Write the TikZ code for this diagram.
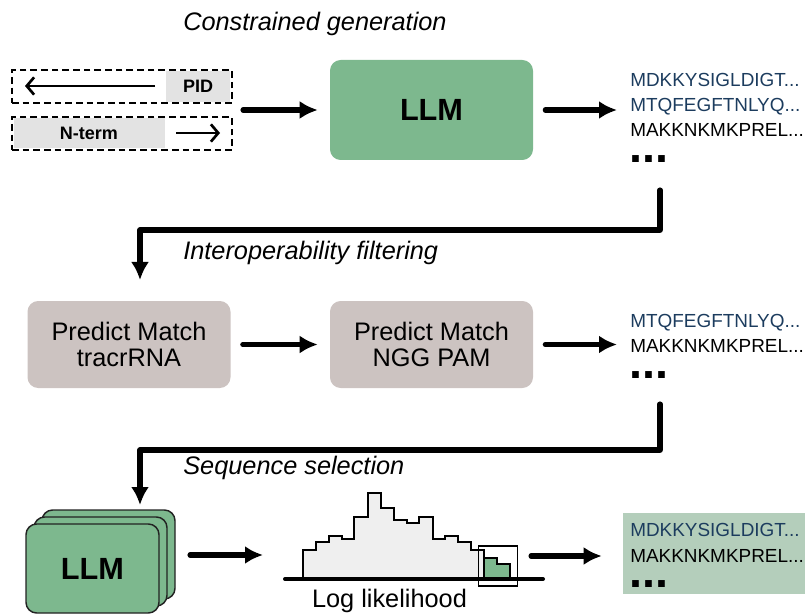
\documentclass[tikz,border=0pt]{standalone}
\usepackage{fontspec}
\setmainfont{Liberation Sans}
\usetikzlibrary{arrows.meta}

\definecolor{llmgreen}{HTML}{7DB88E}
\definecolor{pickgreen}{HTML}{B4CEBB}
\definecolor{filtgray}{HTML}{CCC3C1}
\definecolor{tagfill}{HTML}{E3E3E3}
\definecolor{histfill}{HTML}{EFEFEF}
\definecolor{seqblue}{HTML}{1C3C5E}
\definecolor{edge}{HTML}{222222}

\tikzset{
  flow/.style={line width=3.8pt, line cap=round, line join=round,
    -{Latex[length=13.5pt,width=13.5pt]}},
  thinflow/.style={line width=2pt, -{Straight Barb[length=5.5pt,width=13pt]}},
  stage/.style={font=\itshape\fontsize{19}{19}\selectfont, inner sep=0pt, anchor=base west},
  llmbox/.style={rounded corners=8pt, fill=llmgreen, minimum width=152.25pt,
    minimum height=75pt, font=\bfseries\fontsize{23}{23}\selectfont},
  stackbox/.style={rounded corners=8pt, fill=llmgreen, draw=edge, line width=1.1pt,
    minimum width=99.75pt, minimum height=66.75pt, font=\bfseries\fontsize{23}{23}\selectfont},
  filterbox/.style={rounded corners=8pt, fill=filtgray, minimum width=152.25pt,
    minimum height=65.25pt, align=center, font=\fontsize{19}{19.5}\selectfont},
  tagbox/.style={draw, dashed, dash pattern=on 5pt off 3pt, line width=1.1pt,
    minimum width=165pt, minimum height=24.75pt},
  seq/.style={font=\fontsize{14.2}{14.2}\selectfont, inner sep=0pt, anchor=base west},
  more/.style={font=\bfseries\fontsize{35}{35}\selectfont, inner sep=0pt, anchor=base west},
}

\begin{document}
\begin{tikzpicture}[x=0.75pt, y=-0.75pt]
\useasboundingbox (0,0) rectangle (805,616);

% ---------- stage 1: constrained generation ----------
\node[stage] (t1) at (183,31) {Constrained generation};

\fill[tagfill] (166,71) rectangle (230,102);
\fill[tagfill] (14,118) rectangle (165,148);
\node[tagbox] (pid) at (122,86.5) {};
\node[tagbox] (nterm) at (122,133.5) {};
\node[font=\bfseries\fontsize{13.5}{13.5}\selectfont, inner sep=0pt] (pidtxt) at (198,86.5) {PID};
\node[font=\bfseries\fontsize{13.5}{13.5}\selectfont, inner sep=0pt] (ntermtxt) at (89,133.5) {N-term};
\coordinate (pidA) at (155,86);
\coordinate (pidB) at (25,86);
\draw[thinflow] (pidA) -- (pidB);
\coordinate (ntA) at (176,133);
\coordinate (ntB) at (220,133);
\draw[thinflow] (ntA) -- (ntB);

\node[llmbox] (llm) at (431.5,110) {LLM};

\node[seq, text=seqblue] (s1a) at (630,87) {MDKKYSIGLDIGT...};
\node[seq, text=seqblue] (s1b) at (630,112) {MTQFEGFTNLYQ...};
\node[seq] (s1c) at (630,137) {MAKKNKMKPREL...};
\node[more] (s1d) at (629,163) {...};

\coordinate (in1) at (243,110);
\draw[flow] (in1) -- ([xshift=-9pt]llm.west);
\draw[flow, shorten <=9pt, shorten >=9.75pt] (llm.east) -- (llm.east -| s1a.west);

% ---------- stage 2: interoperability filtering ----------
\coordinate (d1) at (660,190);
\coordinate (d1end) at (140,280);
\draw[flow] (d1) -- (660,230) -| (d1end);
\node[stage] (t2) at (183,260) {Interoperability filtering};

\node[filterbox] (tracr) at (129,344.5) {Predict Match\\tracrRNA};
\node[filterbox] (pam) at (431.5,344.5) {Predict Match\\NGG PAM};

\node[seq, text=seqblue] (s2a) at (630,327) {MTQFEGFTNLYQ...};
\node[seq] (s2b) at (630,352) {MAKKNKMKPREL...};
\node[more] (s2c) at (629,378) {...};

\draw[flow, shorten <=9pt, shorten >=9pt] (tracr) -- (pam);
\draw[flow, shorten <=9pt, shorten >=9.75pt] (pam.east) -- (pam.east -| s2a.west);

% ---------- stage 3: sequence selection ----------
\coordinate (d2) at (660,404);
\coordinate (d2end) at (140,505);
\draw[flow] (d2) -- (660,450) -| (d2end);
\node[stage] (t3) at (183,474) {Sequence selection};

\node[stackbox] (llm3) at (108.5,554.5) {};
\node[stackbox] (llm2) at (100.5,561.5) {};
\node[stackbox] (llm1) at (92.5,568.5) {LLM};

\coordinate (a3s) at (190,555);
\coordinate (a3e) at (263,555);
\draw[flow] (a3s) -- (a3e);

% likelihood histogram
\filldraw[fill=histfill, draw=black, line width=1.4pt, line join=miter]
  (303.3,579) -- (303.3,550) -- (316,550) -- (316,541.7) -- (329.3,541.7) -- (329.3,535.7)
  -- (342.3,535.7) -- (342.3,539) -- (354.3,539) -- (354.3,516.7) -- (367.7,516.7) -- (367.7,493.3)
  -- (380.7,493.3) -- (380.7,508.3) -- (394,508.3) -- (394,520) -- (406.7,520) -- (406.7,522.7)
  -- (419,522.7) -- (419,516.7) -- (432.7,516.7) -- (432.7,539) -- (445,539) -- (445,535.7)
  -- (458.3,535.7) -- (458.3,541.7) -- (471,541.7) -- (471,550) -- (484.3,550) -- (484.3,557.7)
  -- (497.3,557.7) -- (497.3,564) -- (510,564) -- (510,579);
\filldraw[fill=llmgreen, draw=black, line width=1.4pt]
  (484.3,579) -- (484.3,557.7) -- (497.3,557.7) -- (497.3,564) -- (510,564) -- (510,579);
\draw[line width=3pt, line cap=round] (285,579) -- (543,579);
\draw[line width=1pt] (478.3,546) rectangle (517.7,586);
\node[font=\fontsize{19}{19}\selectfont, inner sep=0pt, anchor=base] (xlab) at (389.5,607) {Log likelihood};

\coordinate (a4s) at (531,556);
\node[fill=pickgreen, minimum width=136.5pt, minimum height=60.75pt, inner sep=0pt] (pick) at (714,553.5) {};
\draw[flow] (a4s) -- ([xshift=-15.75pt]pick.west |- a4s);

\node[seq, text=seqblue] (s3a) at (630,536) {MDKKYSIGLDIGT...};
\node[seq] (s3b) at (630,562) {MAKKNKMKPREL...};
\node[more] (s3c) at (629,587) {...};
\end{tikzpicture}
\end{document}
